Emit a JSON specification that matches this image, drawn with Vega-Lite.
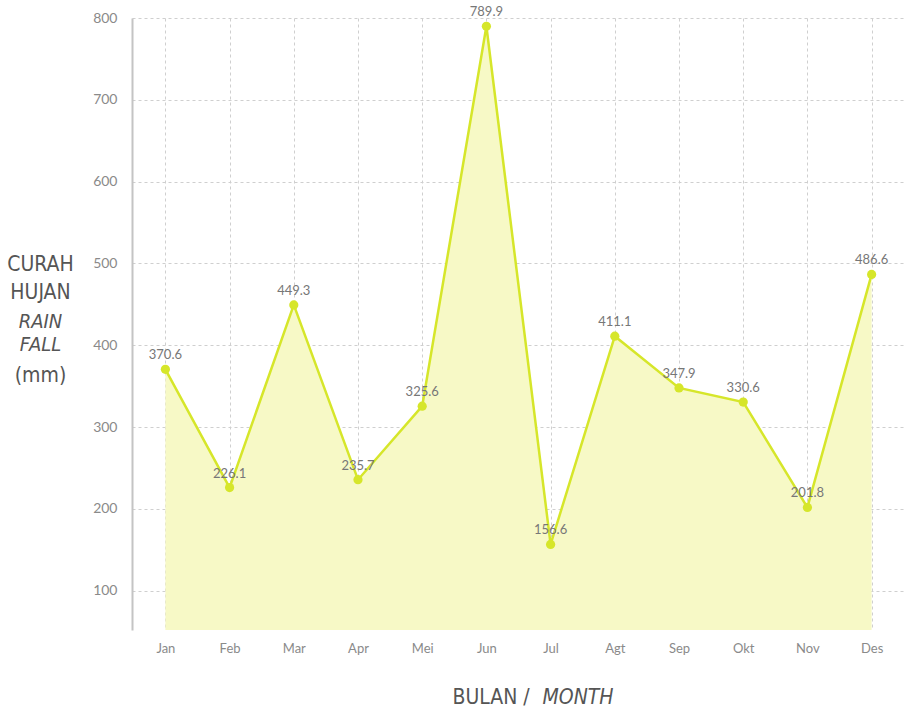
{
  "$schema": "https://vega.github.io/schema/vega-lite/v6.json",
  "width": 773,
  "height": 612,
  "autosize": {"type": "none"},
  "padding": {"left": 132, "top": 18, "right": 0, "bottom": 81},
  "background": "white",
  "config": {"view": {"stroke": null}, "font": "Lato"},
  "data": {
    "values": [
      {"month": "Jan", "rain": 370.6},
      {"month": "Feb", "rain": 226.1},
      {"month": "Mar", "rain": 449.3},
      {"month": "Apr", "rain": 235.7},
      {"month": "Mei", "rain": 325.6},
      {"month": "Jun", "rain": 789.9},
      {"month": "Jul", "rain": 156.6},
      {"month": "Agt", "rain": 411.1},
      {"month": "Sep", "rain": 347.9},
      {"month": "Okt", "rain": 330.6},
      {"month": "Nov", "rain": 201.8},
      {"month": "Des", "rain": 486.6}
    ]
  },
  "layer": [
    {
      "mark": {"type": "area", "color": "#f7f9c6", "opacity": 1},
      "encoding": {
        "x": {
          "field": "month", "type": "ordinal", "sort": null,
          "scale": {"type": "point", "padding": 0.52},
          "axis": {
            "orient": "bottom", "labelAngle": 0, "ticks": false, "domain": false,
            "labelPadding": 12, "labelFontSize": 13, "labelColor": "#8a8a8a", "labelFont": "Lato",
            "grid": true, "gridDash": [3, 3], "gridColor": "#cfcfcf", "gridWidth": 1,
            "title": "BULAN /", "titleX": 320, "titleY": 73, "titleAlign": "left", "titleBaseline": "alphabetic",
            "titleFont": "DejaVu Sans Condensed, sans-serif", "titleFontSize": 21,
            "titleFontWeight": "normal", "titleColor": "#555555"
          }
        },
        "y": {
          "field": "rain", "type": "quantitative",
          "scale": {"domain": [52, 800], "zero": false, "nice": false},
          "axis": {
            "orient": "left", "values": [100, 200, 300, 400, 500, 600, 700, 800],
            "ticks": false, "domain": true, "domainColor": "#c4c4c4", "domainWidth": 2,
            "labelPadding": 15, "labelFontSize": 14, "labelColor": "#8a8a8a", "labelFont": "Lato",
            "grid": true, "gridDash": [3, 3], "gridColor": "#cfcfcf", "gridWidth": 1,
            "title": ["CURAH", "HUJAN"], "titleAngle": 0, "titleX": -92, "titleY": 252,
            "titleAlign": "center", "titleBaseline": "alphabetic", "titleLineHeight": 28,
            "titleFont": "DejaVu Sans Condensed, sans-serif", "titleFontSize": 21,
            "titleFontWeight": "normal", "titleColor": "#555555"
          }
        },
        "y2": {"datum": 52}
      }
    },
    {
      "mark": {"type": "line", "color": "#d6e62a", "strokeWidth": 2.5},
      "encoding": {
        "x": {
          "field": "month", "type": "ordinal", "sort": null,
          "scale": {"type": "point", "padding": 0.52},
          "axis": {
            "orient": "bottom", "labels": false, "ticks": false, "domain": false, "grid": false,
            "title": "MONTH", "titleX": 410, "titleY": 73, "titleAlign": "left", "titleBaseline": "alphabetic",
            "titleFont": "DejaVu Sans Condensed, sans-serif", "titleFontSize": 21,
            "titleFontStyle": "italic", "titleFontWeight": "normal", "titleColor": "#555555"
          }
        },
        "y": {
          "field": "rain", "type": "quantitative",
          "scale": {"domain": [52, 800], "zero": false, "nice": false},
          "axis": {
            "orient": "left", "labels": false, "ticks": false, "domain": false, "grid": false,
            "title": ["RAIN", "FALL"], "titleAngle": 0, "titleX": -92, "titleY": 309,
            "titleAlign": "center", "titleBaseline": "alphabetic", "titleLineHeight": 23,
            "titleFont": "DejaVu Sans Condensed, sans-serif", "titleFontSize": 20,
            "titleFontStyle": "italic", "titleFontWeight": "normal", "titleColor": "#555555"
          }
        }
      }
    },
    {
      "mark": {"type": "point", "filled": true, "size": 85, "color": "#d6e62a", "opacity": 1},
      "encoding": {
        "x": {
          "field": "month", "type": "ordinal", "sort": null,
          "scale": {"type": "point", "padding": 0.52},
          "axis": null
        },
        "y": {
          "field": "rain", "type": "quantitative",
          "scale": {"domain": [52, 800], "zero": false, "nice": false},
          "axis": {
            "orient": "left", "labels": false, "ticks": false, "domain": false, "grid": false,
            "title": "(mm)", "titleAngle": 0, "titleX": -92, "titleY": 363,
            "titleAlign": "center", "titleBaseline": "alphabetic",
            "titleFont": "DejaVu Sans Condensed, sans-serif", "titleFontSize": 21,
            "titleFontWeight": "normal", "titleColor": "#555555"
          }
        }
      }
    },
    {
      "mark": {"type": "text", "baseline": "middle", "align": "center", "dy": -14, "fontSize": 13, "color": "#777777", "font": "Lato"},
      "encoding": {
        "x": {
          "field": "month", "type": "ordinal", "sort": null,
          "scale": {"type": "point", "padding": 0.52},
          "axis": null
        },
        "y": {
          "field": "rain", "type": "quantitative",
          "scale": {"domain": [52, 800], "zero": false, "nice": false},
          "axis": null
        },
        "text": {"field": "rain", "type": "quantitative", "format": ".1f"}
      }
    }
  ],
  "resolve": {"axis": {"x": "independent", "y": "independent"}}
}
